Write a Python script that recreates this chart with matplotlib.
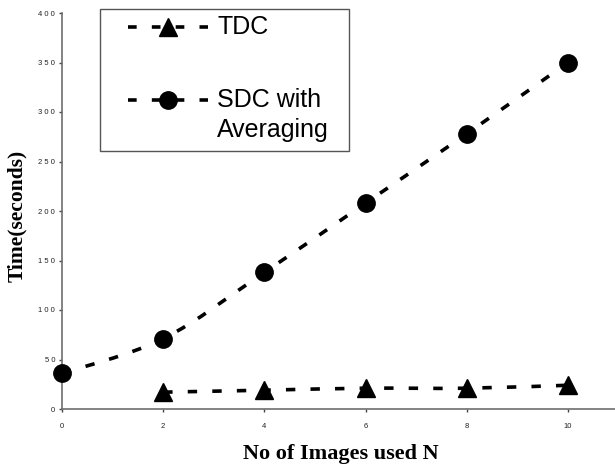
import matplotlib
matplotlib.use("Agg")
import matplotlib.pyplot as plt
import numpy as np
from matplotlib.path import Path
from matplotlib.patches import PathPatch, Rectangle
from matplotlib.lines import Line2D

# Data
tdc_x = [2, 4, 6, 8, 10]
tdc_y = [17, 19, 21, 21, 24]
sdc_x = [0, 2, 4, 6, 8, 10]
sdc_y = [36, 71, 138, 208, 278, 350]
x_ticks = [0, 2, 4, 6, 8, 10]
y_ticks = [0, 50, 100, 150, 200, 250, 300, 350, 400]
tdc_label = "TDC"
sdc_label = "SDC with\nAveraging"
x_label = "No of Images used N"
y_label = "Time(seconds)"

W, H = 615, 467
fig = plt.figure(figsize=(W / 100, H / 100), dpi=100)
left, right, bottom, top = 62, 615, 409, 13
ax = fig.add_axes([left / W, (H - bottom) / H, (right - left) / W, (bottom - top) / H])
ax.set_xlim(0, 10.93)
ax.set_ylim(0, 400)

def smooth_path(xs, ys):
    pts = np.column_stack([xs, ys]).astype(float)
    n = len(pts)
    verts = [pts[0]]
    codes = [Path.MOVETO]
    for i in range(n - 1):
        p0 = pts[i - 1] if i > 0 else pts[i]
        p1 = pts[i]
        p2 = pts[i + 1]
        p3 = pts[i + 2] if i + 2 < n else pts[i + 1]
        c1 = p1 + (p2 - p0) / 6.0
        c2 = p2 - (p3 - p1) / 6.0
        verts += [c1, c2, p2]
        codes += [Path.CURVE4] * 3
    return Path(np.array(verts), codes)

dash = (0, (2.6, 4.2))
lw = 2.6
for xs, ys in [(tdc_x, tdc_y), (sdc_x, sdc_y)]:
    patch = PathPatch(smooth_path(xs, ys), fill=False, edgecolor="black",
                      linewidth=lw, linestyle=dash, capstyle="butt")
    ax.add_patch(patch)

ms = 12.5
ax.plot(tdc_x, tdc_y, linestyle="none", marker="^", markersize=ms,
        color="black", clip_on=False, zorder=3)
ax.plot(sdc_x, sdc_y, linestyle="none", marker="o", markersize=ms,
        color="black", clip_on=False, zorder=3)

for s in ["top", "right"]:
    ax.spines[s].set_visible(False)
for s in ["left", "bottom"]:
    ax.spines[s].set_color("#6e6e6e")
    ax.spines[s].set_linewidth(1.2)

ax.set_xticks(x_ticks)
ax.set_yticks(y_ticks)
ax.set_xticklabels([str(v) for v in x_ticks])
ax.set_yticklabels([" ".join(str(v)) for v in y_ticks])
ax.tick_params(axis="both", length=2, width=1, color="#444444",
               labelsize=5.5, labelcolor="#222222")
ax.tick_params(axis="x", pad=8)
ax.tick_params(axis="y", pad=3)
for t in ax.get_xticklabels() + ax.get_yticklabels():
    t.set_family("Liberation Sans")

fig.text(17 / W, 1 - 216 / H, y_label, rotation=90, ha="center", va="center",
         fontsize=15.5, fontweight="bold", family="Liberation Serif")
fig.text(341 / W, 1 - 454 / H, x_label, ha="center", va="center",
         fontsize=16, fontweight="bold", family="Liberation Serif")

# Legend drawn in figure pixel positions
def fx(px):
    return px / W

def fy(py):
    return 1 - py / H

fig.add_artist(Rectangle((fx(100), fy(151)), fx(349) - fx(100), fy(9) - fy(151),
                         transform=fig.transFigure, fill=True, facecolor="white",
                         edgecolor="#555555", linewidth=1.0, zorder=5))
leg_font = {"family": "Liberation Sans", "size": 18}
entries = [("^", tdc_label, 27, [34]), ("o", sdc_label, 100, [107, 137])]
for marker, label, yc, baselines in entries:
    fig.add_artist(Line2D([fx(128), fx(208)], [fy(yc), fy(yc)], transform=fig.transFigure,
                          color="black", linewidth=lw, linestyle=(0, (2.4, 4.2)),
                          zorder=6))
    fig.add_artist(Line2D([fx(168)], [fy(yc)], transform=fig.transFigure,
                          color="black", marker=marker, markersize=ms,
                          linestyle="none", zorder=7))
    for line, b in zip(label.split("\n"), baselines):
        fig.text(fx(217), fy(b), line, ha="left", va="baseline", zorder=7, **leg_font)

fig.savefig("out.png", dpi=100)
